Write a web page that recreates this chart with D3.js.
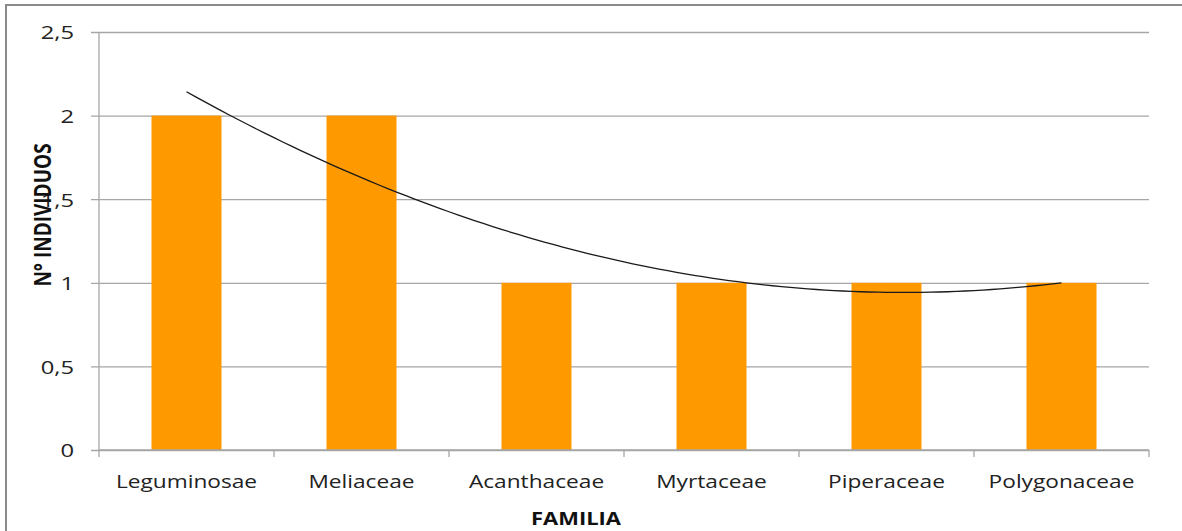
<!DOCTYPE html>
<html>
<head>
<meta charset="utf-8">
<script src="https://cdn.jsdelivr.net/npm/d3@7"></script>
<style>
  html, body { margin: 0; padding: 0; background: #fff; }
  svg { display: block; }
</style>
</head>
<body>
<svg id="chart" width="1182" height="531"></svg>
<script>
// Number of individuals per botanical family
const familias = ["Leguminosae", "Meliaceae", "Acanthaceae", "Myrtaceae", "Piperaceae", "Polygonaceae"];
const individuos = [2, 2, 1, 1, 1, 1];
const yTicks = [0, 0.5, 1, 1.5, 2, 2.5];

const W = 1182, H = 531;
const plot = { left: 99, right: 1149, top: 32, bottom: 450 };
const font = "'Open Sans', 'Noto Sans', sans-serif";
const stretch = 1.22; // wide lettering

const svg = d3.select("#chart");

// Outer frame (top and left edges)
svg.append("line").attr("x1", 5).attr("x2", W).attr("y1", 5).attr("y2", 5)
  .attr("stroke", "#8a8a8a").attr("stroke-width", 2);
svg.append("line").attr("x1", 6).attr("x2", 6).attr("y1", 4).attr("y2", H)
  .attr("stroke", "#8a8a8a").attr("stroke-width", 2);

const x = d3.scaleBand().domain(familias).range([plot.left, plot.right])
  .paddingInner(0.6).paddingOuter(0.3);
const xb = d3.scaleBand().domain(familias).range([plot.left, plot.right]);
const y = d3.scaleLinear().domain([0, 2.5]).range([plot.bottom, plot.top]);

const fmt = d => d3.format("")(d).replace(".", ",");

// Horizontal gridlines with left tick marks
const yAxis = d3.axisLeft(y).tickValues(yTicks).tickFormat(fmt)
  .tickSize(-(plot.right - plot.left));
const gy = svg.append("g").attr("transform", `translate(${plot.left},0)`).call(yAxis);
gy.select(".domain").remove();
gy.selectAll(".tick line").attr("stroke", "#a6a6a6").attr("stroke-width", 1.3).attr("x1", -8);
gy.selectAll(".tick text")
  .attr("x", null).attr("dy", null)
  .attr("transform", `translate(-25,0) scale(${stretch + 0.03},1)`)
  .attr("dy", "0.36em")
  .attr("fill", "#222").style("font-family", font).style("font-size", "19px");

// Vertical axis line
svg.append("line").attr("x1", plot.left).attr("x2", plot.left)
  .attr("y1", plot.top).attr("y2", plot.bottom)
  .attr("stroke", "#a6a6a6").attr("stroke-width", 1.3);

// Bars
svg.append("g").selectAll("rect").data(familias).join("rect")
  .attr("x", d => x(d)).attr("width", x.bandwidth())
  .attr("y", (d, i) => y(individuos[i]))
  .attr("height", (d, i) => y(0) - y(individuos[i]))
  .attr("fill", "#ff9900");

// Category axis with ticks at band boundaries
const gx = svg.append("g").attr("transform", `translate(0,${plot.bottom})`);
gx.append("line").attr("x1", plot.left).attr("x2", plot.right)
  .attr("stroke", "#a6a6a6").attr("stroke-width", 1.5);
const bounds = familias.map(f => xb(f)).concat([plot.right]);
gx.selectAll("line.tk").data(bounds).join("line").attr("class", "tk")
  .attr("x1", d => d).attr("x2", d => d).attr("y1", 0).attr("y2", 7)
  .attr("stroke", "#a6a6a6").attr("stroke-width", 1.3);
gx.selectAll("text").data(familias).join("text")
  .attr("transform", d => `translate(${xb(d) + xb.bandwidth() / 2},37.5) scale(${stretch},1)`)
  .attr("text-anchor", "middle").attr("fill", "#222")
  .style("font-family", font).style("font-size", "18.6px")
  .text(d => d);

// Second-order polynomial trendline (least squares) over category index
const n = individuos.length;
const xs = d3.range(1, n + 1);
const mx = d3.mean(xs);
const ts = xs.map(v => v - mx);
const S2 = d3.sum(ts, t => t * t), S4 = d3.sum(ts, t => t ** 4);
const Sy = d3.sum(individuos), Sty = d3.sum(ts, (t, i) => t * individuos[i]);
const St2y = d3.sum(ts, (t, i) => t * t * individuos[i]);
const b = Sty / S2;
const c = (St2y - S2 * Sy / n) / (S4 - S2 * S2 / n);
const a = (Sy - c * S2) / n;
const trend = t => a + b * t + c * t * t;
const xIdx = d3.scaleLinear().domain([1, n])
  .range([xb(familias[0]) + xb.bandwidth() / 2, xb(familias[n - 1]) + xb.bandwidth() / 2]);
const samples = d3.range(0, 101).map(k => 1 + (n - 1) * k / 100);
svg.append("path")
  .attr("d", d3.line().x(v => xIdx(v)).y(v => y(trend(v - mx)))(samples))
  .attr("fill", "none").attr("stroke", "#1a1a1a").attr("stroke-width", 1.3);

// Axis titles
svg.append("text").attr("transform", `translate(51,215) scale(${stretch},1) rotate(-90)`)
  .attr("text-anchor", "middle").attr("fill", "#111")
  .style("font-family", font).style("font-size", "19px").style("font-weight", "bold")
  .text("N° INDIVIDUOS");
svg.append("text").attr("transform", `translate(576,525) scale(${stretch},1)`)
  .attr("text-anchor", "middle").attr("fill", "#111")
  .style("font-family", font).style("font-size", "18px").style("font-weight", "bold")
  .text("FAMILIA");
</script>
</body>
</html>
